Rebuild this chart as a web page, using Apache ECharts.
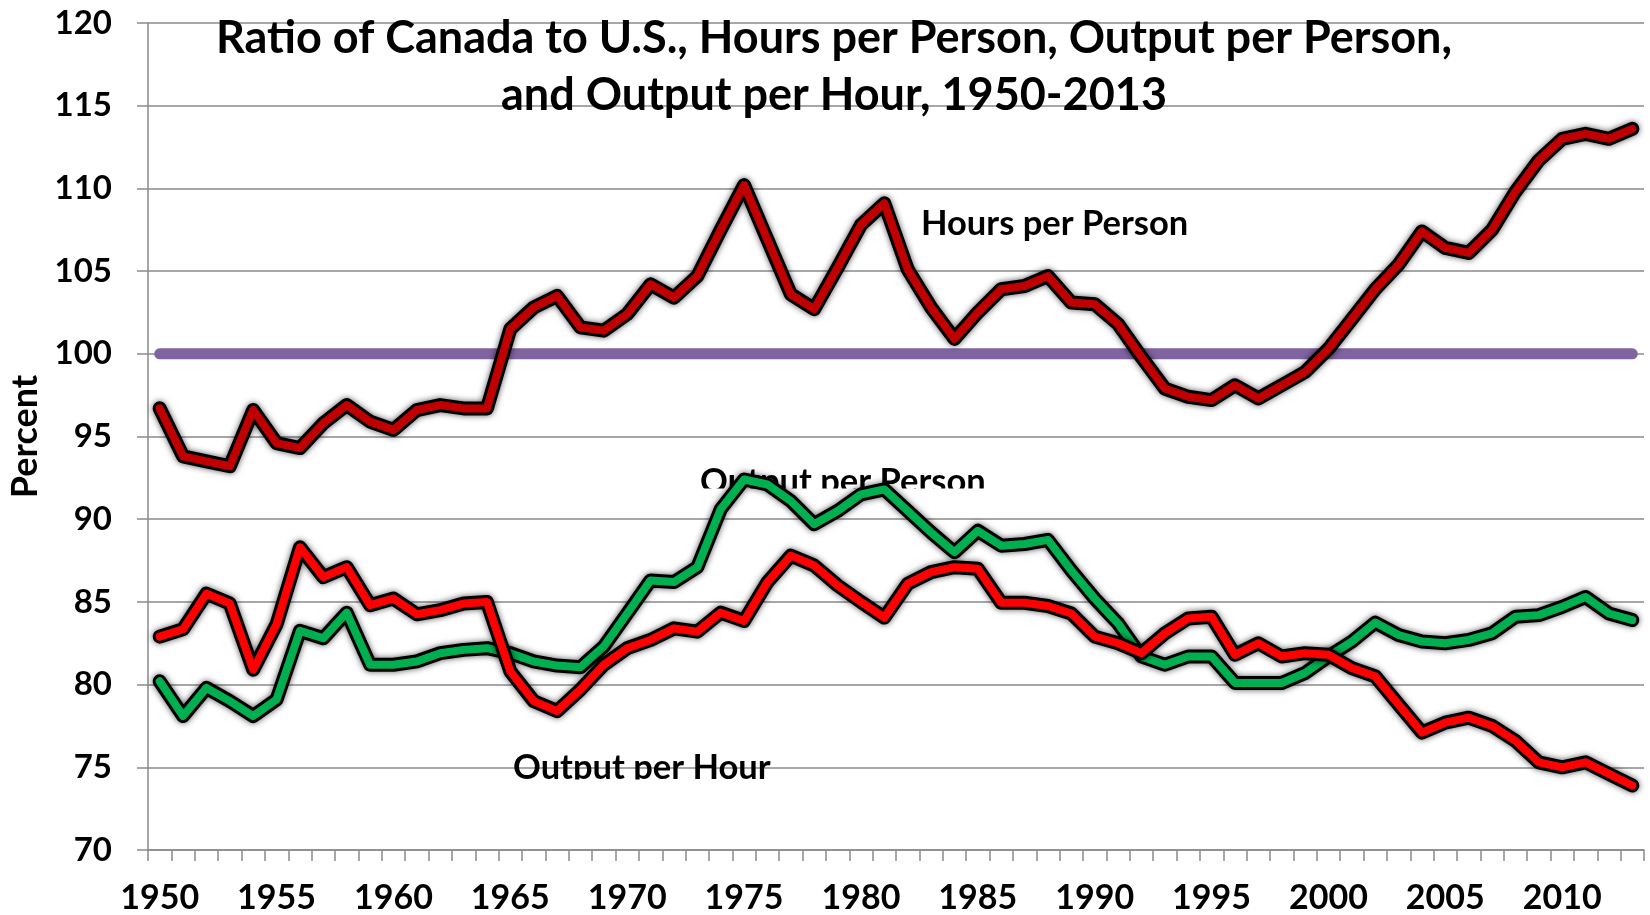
<!DOCTYPE html>
<html>
<head>
<meta charset="utf-8">
<script src="https://cdn.jsdelivr.net/npm/echarts@6/dist/echarts.min.js"></script>
<style>
html,body{margin:0;padding:0;background:#fff;}
#chart{width:1650px;height:915px;}
</style>
</head>
<body>
<div id="chart"></div>
<script>
const years = [];
for (let y = 1950; y <= 2013; y++) years.push(String(y));

const yTicks = [70, 75, 80, 85, 90, 95, 100, 105, 110, 115, 120];

const hoursPerPerson = [
  96.7, 93.8, 93.5, 93.2, 96.6, 94.6, 94.3, 95.8, 96.9, 95.9,
  95.4, 96.6, 96.9, 96.7, 96.7, 101.5, 102.8, 103.5, 101.6, 101.4,
  102.4, 104.2, 103.4, 104.7, 107.5, 110.2, 106.9, 103.6, 102.7, 105.2,
  107.8, 109.1, 105.1, 102.8, 100.9, 102.5, 103.9, 104.1, 104.7, 103.1,
  103.0, 101.8, 99.8, 97.9, 97.4, 97.2, 98.1, 97.3, 98.1, 98.9,
  100.3, 102.1, 103.9, 105.4, 107.4, 106.4, 106.1, 107.5, 109.8, 111.7,
  113.0, 113.3, 113.0, 113.6
];

const outputPerHour = [
  82.9, 83.35, 85.5, 84.9, 80.9, 83.65, 88.3, 86.5, 87.1, 84.8,
  85.2, 84.25, 84.5, 84.9, 85.0, 80.8, 79.0, 78.4, 79.7, 81.2,
  82.2, 82.7, 83.4, 83.2, 84.35, 83.85, 86.2, 87.8, 87.2, 86.0,
  85.0, 84.05, 86.1, 86.8, 87.1, 87.0, 84.95, 84.95, 84.75, 84.3,
  82.9, 82.5, 81.9, 83.1, 84.0, 84.1, 81.8, 82.5, 81.7, 81.9,
  81.8, 81.0, 80.5, 78.8, 77.1, 77.7, 78.0, 77.5, 76.6, 75.3,
  75.0, 75.3, 74.6, 73.9
];

const outputPerPerson = [
  80.2, 78.1, 79.8, 79.0, 78.1, 79.1, 83.25, 82.8, 84.35, 81.2,
  81.2, 81.4, 81.9, 82.1, 82.2, 81.9, 81.4, 81.15, 81.05, 82.3,
  84.3, 86.3, 86.2, 87.1, 90.6, 92.4, 92.1, 91.1, 89.7, 90.5,
  91.5, 91.8, 90.5, 89.2, 88.0, 89.3, 88.4, 88.5, 88.75, 86.9,
  85.2, 83.7, 81.7, 81.2, 81.7, 81.7, 80.1, 80.1, 80.1, 80.7,
  81.7, 82.6, 83.75, 83.0, 82.6, 82.5, 82.7, 83.1, 84.1, 84.2,
  84.7, 85.3, 84.3, 83.9
];

const parity = [
  100, 100, 100, 100, 100, 100, 100, 100, 100, 100,
  100, 100, 100, 100, 100, 100, 100, 100, 100, 100,
  100, 100, 100, 100, 100, 100, 100, 100, 100, 100,
  100, 100, 100, 100, 100, 100, 100, 100, 100, 100,
  100, 100, 100, 100, 100, 100, 100, 100, 100, 100,
  100, 100, 100, 100, 100, 100, 100, 100, 100, 100,
  100, 100, 100, 100
];

const FONT = 'Lato';
const GRID_COLOR = '#8a8a8a';

function outlined(name, data, color, zBase) {
  return [
    {
      name: name + ' outline', type: 'line', data: data, symbol: 'none', silent: true,
      z: zBase, animation: false,
      lineStyle: { color: '#000', width: 14, cap: 'round', join: 'round',
                   shadowColor: 'rgba(0,0,0,0.65)', shadowBlur: 6 }
    },
    {
      name: name, type: 'line', data: data, symbol: 'none', silent: true,
      z: zBase + 1, animation: false,
      lineStyle: { color: color, width: 8, cap: 'round', join: 'round' }
    }
  ];
}

const chart = echarts.init(document.getElementById('chart'), null, { renderer: 'canvas' });

const option = {
  backgroundColor: '#ffffff',
  animation: false,
  title: {
    text: 'Ratio of Canada to U.S., Hours per Person, Output per Person,\nand Output per Hour, 1950-2013',
    left: 834,
    top: 10,
    padding: 0,
    textAlign: 'center',
    textStyle: { fontFamily: FONT, fontWeight: 'bold', fontSize: 45, lineHeight: 57, color: '#000' }
  },
  grid: { left: 148, right: 6, top: 23, bottom: 65, outerBoundsMode: 'none', containLabel: false },
  xAxis: {
    type: 'category',
    data: years,
    boundaryGap: true,
    axisLine: { show: true, lineStyle: { color: GRID_COLOR, width: 1.5 } },
    axisTick: { show: true, interval: 0, length: 11, alignWithLabel: false, lineStyle: { color: GRID_COLOR, width: 1.5 } },
    axisLabel: { interval: 4, margin: 31, fontFamily: FONT, fontWeight: 'bold', fontSize: 34, color: '#000' },
    splitLine: { show: false }
  },
  yAxis: {
    type: 'value',
    min: yTicks[0],
    max: yTicks[yTicks.length - 1],
    interval: yTicks[1] - yTicks[0],
    name: 'Percent',
    nameLocation: 'middle',
    nameRotate: 90,
    nameGap: 102,
    nameTextStyle: { fontFamily: FONT, fontWeight: 'bold', fontSize: 36, color: '#000' },
    axisLine: { show: true, lineStyle: { color: GRID_COLOR, width: 1.5 } },
    axisTick: { show: true, length: 11, lineStyle: { color: GRID_COLOR, width: 1.5 } },
    axisLabel: { margin: 36, fontFamily: FONT, fontWeight: 'bold', fontSize: 33, color: '#000' },
    splitLine: { show: true, lineStyle: { color: GRID_COLOR, width: 1.5 } }
  },
  graphic: [
    { type: 'text', z: 1, style: { x: 921, y: 224, text: 'Hours per Person', fill: '#000',
      font: 'bold 34.5px ' + FONT, textAlign: 'left', textVerticalAlign: 'middle' } },
    { type: 'text', z: 1, style: { x: 700, y: 481.5, text: 'Output per Person', fill: '#000',
      font: 'bold 34.5px ' + FONT, textAlign: 'left', textVerticalAlign: 'middle' } },
    { type: 'rect', z: 1.6, shape: { x: 690, y: 488.5, width: 320, height: 18 }, style: { fill: '#fff' } },
    { type: 'text', z: 1, style: { x: 513, y: 767.4, text: 'Output per Hour', fill: '#000',
      font: 'bold 34.5px ' + FONT, textAlign: 'left', textVerticalAlign: 'middle' } },
    { type: 'rect', z: 1.6, shape: { x: 505, y: 779.5, width: 290, height: 18 }, style: { fill: '#fff' } }
  ],
  series: [
    {
      name: 'Parity', type: 'line', data: parity, symbol: 'none', silent: true, z: 2, animation: false,
      lineStyle: { color: '#8064A2', width: 11, cap: 'round' }
    }
  ].concat(
    outlined('Hours per Person', hoursPerPerson, '#C00000', 3),
    outlined('Output per Person', outputPerPerson, '#00B050', 5),
    outlined('Output per Hour', outputPerHour, '#FF0000', 7)
  )
};

chart.setOption(option);
</script>
</body>
</html>
